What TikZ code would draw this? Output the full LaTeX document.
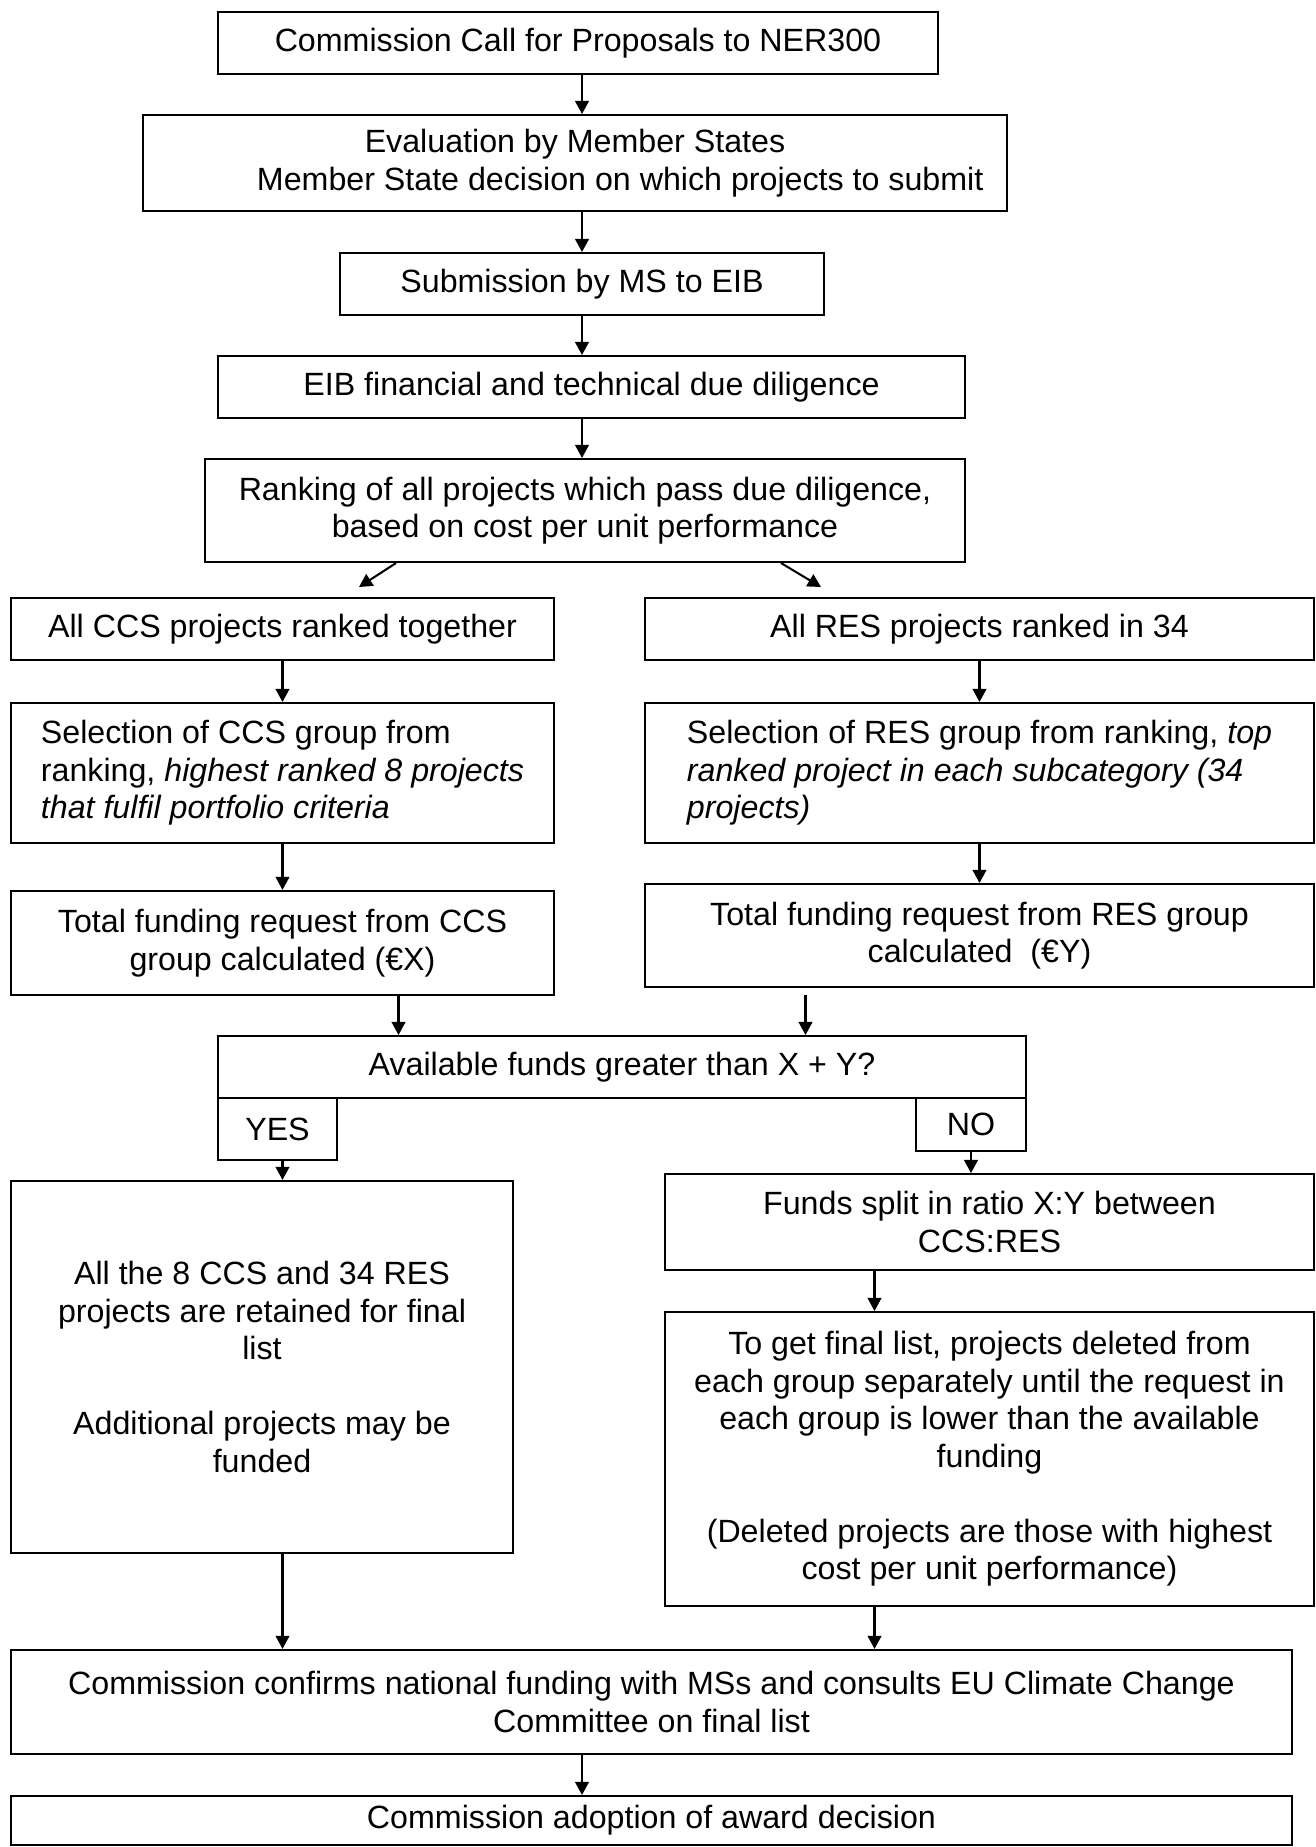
\documentclass[tikz,border=0pt]{standalone}
\usepackage{fontspec}
\setmainfont{Liberation Sans}
\usetikzlibrary{arrows.meta, positioning, calc}

\begin{document}
\begin{tikzpicture}[
    x=0.365pt, y=-0.365pt,
    stage/.style={draw, rectangle, line width=0.75pt, inner sep=2pt, align=center, font=\fontsize{11.75}{13.7}\selectfont},
    pick/.style={stage, align=left, minimum height=51.1pt},
    flow/.style={-{Triangle[length=4.8pt, width=5pt]}, line width=0.75pt}
]
\useasboundingbox (0,0) rectangle (1316,1847);

% Main column
\node[stage, minimum width=262.8pt, minimum height=22.6pt] (call) at (578, 43) {Commission Call for Proposals to NER300};
\node[stage, minimum width=315.4pt, minimum height=35pt] (eval) at (575, 163) {Evaluation by Member States\\ \hspace{33pt}Member State decision on which projects to submit};
\node[stage, minimum width=176.7pt, minimum height=22.6pt] (submit) at (582, 284) {Submission by MS to EIB};
\node[stage, minimum width=272.7pt, minimum height=22.6pt] (eib) at (591.5, 387) {EIB financial and technical due diligence};
\node[stage, minimum width=277.4pt, minimum height=37.6pt] (rank) at (585, 510.5) {Ranking of all projects which pass due diligence,\\ based on cost per unit performance};

% CCS branch
\node[stage, minimum width=198.2pt, minimum height=22.6pt] (ccsAll) at (282.5, 629) {All CCS projects ranked together};
\node[pick, minimum width=198.2pt] (ccsSel) at (282.5, 773) {Selection of CCS group from\\ ranking, \textit{highest ranked 8 projects}\\ \textit{that fulfil portfolio criteria}};
\node[stage, minimum width=198.2pt, minimum height=38pt] (ccsTot) at (282.5, 943) {Total funding request from CCS\\ group calculated (€X)};

% RES branch
\node[stage, minimum width=244.2pt, minimum height=22.6pt] (resAll) at (979.5, 629) {All RES projects ranked in 34};
\node[pick, minimum width=244.2pt] (resSel) at (979.5, 773) {Selection of RES group from ranking, \textit{top}\\ \textit{ranked project in each subcategory (34}\\ \textit{projects)}};
\node[stage, minimum width=244.2pt, minimum height=37.6pt] (resTot) at (979.5, 935.5) {Total funding request from RES group\\ calculated\ \ (€Y)};

% Decision
\node[stage, minimum width=294.9pt, minimum height=22.6pt] (dec) at (622, 1067) {Available funds greater than X + Y?};
\node[stage, minimum width=43.4pt, minimum height=22.6pt] (yes) at (277.5, 1129) {YES};
\node[stage, minimum width=40.2pt, minimum height=19.3pt] (no) at (971, 1124.5) {NO};

% Outcomes
\node[stage, minimum width=183.2pt, minimum height=135.8pt] (yesRes) at (262, 1367) {All the 8 CCS and 34 RES\\ projects are retained for final\\ list\\[13.7pt] Additional projects may be\\ funded};
\node[stage, minimum width=236.9pt, minimum height=35pt] (split) at (989.5, 1222) {Funds split in ratio X:Y between\\ CCS:RES};
\node[stage, minimum width=236.9pt, minimum height=107.3pt] (cut) at (989.5, 1459) {To get final list, projects deleted from\\ each group separately until the request in\\ each group is lower than the available\\ funding\\[13.7pt] (Deleted projects are those with highest\\ cost per unit performance)};

% Final steps
\node[stage, minimum width=467.6pt, minimum height=38pt] (confirm) at (651.5, 1702) {Commission confirms national funding with MSs and consults EU Climate Change\\ Committee on final list};
\node[stage, minimum width=467.6pt, minimum height=17.9pt] (adopt) at (651.5, 1820.5) {Commission adoption of award decision};

% Connectors main column
\draw[flow] (call.south -| submit.north) -- (submit.north |- eval.north);
\draw[flow] (eval.south -| submit.north) -- (submit.north);
\draw[flow] (submit.south) -- (submit.south |- eib.north);
\draw[flow] (eib.south -| submit.south) -- (submit.south |- rank.north);

% Split into branches
\coordinate (rankL) at ($(rank.south)+(-189,0)$);
\coordinate (rankR) at ($(rank.south)+(196,0)$);
\coordinate (toCCS) at (359, 587);
\coordinate (toRES) at (821, 587);
\draw[flow] (rankL) -- (toCCS);
\draw[flow] (rankR) -- (toRES);

% Branch connectors
\draw[flow] (ccsAll) -- (ccsSel);
\draw[flow] (ccsSel) -- (ccsTot);
\draw[flow] (resAll) -- (resSel);
\draw[flow] (resSel) -- (resTot);

\coordinate (ccsOut) at ($(ccsTot.south)+(116,0)$);
\coordinate (resOut) at ($(resTot.south)+(-174,7)$);
\draw[flow] (ccsOut) -- (ccsOut |- dec.north);
\draw[flow] (resOut) -- (resOut |- dec.north);

% YES / NO
\draw[flow] (yes.south -| ccsTot.south) -- (ccsTot.south |- yesRes.north);
\draw[flow] (no.south) -- (no.south |- split.north);
\coordinate (splitOut) at ($(split.south)+(-115,0)$);
\draw[flow] (splitOut) -- (splitOut |- cut.north);

% Into the final list
\draw[flow] (yesRes.south -| ccsTot.south) -- (ccsTot.south |- confirm.north);
\draw[flow] (cut.south -| splitOut) -- (splitOut |- confirm.north);
\draw[flow] (confirm.south -| submit.south) -- (submit.south |- adopt.north);

\end{tikzpicture}
\end{document}
